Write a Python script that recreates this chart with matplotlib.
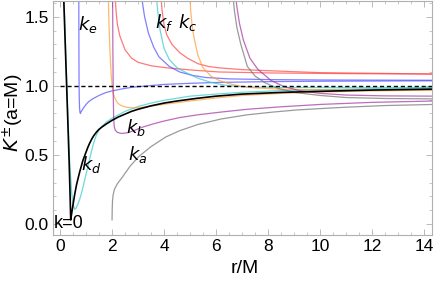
import matplotlib.pyplot as plt
from matplotlib.ticker import MultipleLocator

plt.rcParams['font.family'] = ['Liberation Sans', 'DejaVu Sans']

# values (r/M, K)
black_r = [0.13, 0.2, 0.28, 0.35, 0.39, 0.41, 0.45, 0.5, 0.56, 0.63, 0.7, 0.76, 0.82, 0.88, 0.94, 1.0,
           1.07, 1.14, 1.22, 1.3, 1.4, 1.5, 1.6, 1.75, 2.0, 2.25, 2.5, 2.75, 3.0, 3.5, 4.0, 4.5, 5.3,
           6.0, 7.0, 8.5, 10.0, 12.0, 14.4]
black_k = [1.7, 1.3, 0.85, 0.45, 0.18, 0.03, 0.08, 0.14, 0.21, 0.28, 0.335, 0.38, 0.42, 0.46, 0.49, 0.52,
           0.555, 0.585, 0.615, 0.64, 0.665, 0.685, 0.70, 0.72, 0.75, 0.775, 0.795, 0.815, 0.83, 0.855,
           0.875, 0.89, 0.91, 0.925, 0.94, 0.952, 0.96, 0.969, 0.976]

cyan_lo_r = [0.14, 0.21, 0.29, 0.37, 0.45, 0.5, 0.57, 0.62, 0.68, 0.75, 0.82, 0.9, 1.0, 1.1, 1.2, 1.3,
             1.4, 1.5, 1.6, 1.8, 2.0, 2.5, 3.0, 3.5, 4.0, 5.0, 6.0, 7.0, 8.5, 10.0, 12.0, 14.4]
cyan_lo_k = [1.7, 1.3, 0.85, 0.45, 0.22, 0.14, 0.105, 0.115, 0.14, 0.175, 0.22, 0.28, 0.36, 0.44, 0.52,
             0.59, 0.645, 0.68, 0.705, 0.74, 0.765, 0.815, 0.85, 0.875, 0.895, 0.925, 0.94, 0.953, 0.965,
             0.972, 0.979, 0.984]
cyan_hi_r = [3.68, 3.75, 3.85, 4.0, 4.2, 4.5, 4.9, 5.3, 5.8, 6.3, 6.8, 7.5, 9.0, 14.4]
cyan_hi_k = [1.7, 1.55, 1.4, 1.27, 1.19, 1.13, 1.09, 1.055, 1.025, 1.005, 0.995, 0.99, 0.987, 0.988]

blue_lo_r = [0.72, 0.725, 0.73, 0.74, 0.75, 0.765, 0.78, 0.82, 0.9, 1.0, 1.1, 1.25, 1.5, 1.75, 2.0,
             2.4, 2.8, 3.4, 4.0, 5.0, 6.0, 8.0, 10.0, 14.4]
blue_lo_k = [1.7, 1.3, 1.05, 0.9, 0.84, 0.81, 0.80, 0.815, 0.84, 0.865, 0.885, 0.905, 0.93, 0.95, 0.963,
             0.978, 0.99, 1.0, 1.01, 1.018, 1.024, 1.03, 1.033, 1.036]
blue_hi_r = [3.12, 3.17, 3.25, 3.4, 3.6, 3.8, 4.2, 4.6, 5.1, 5.6, 6.5, 8.0, 10.0, 14.4]
blue_hi_k = [1.7, 1.6, 1.5, 1.38, 1.28, 1.21, 1.14, 1.10, 1.075, 1.06, 1.05, 1.045, 1.042, 1.04]

red_1_r = [2.1, 2.15, 2.2, 2.3, 2.5, 2.75, 3.0, 3.5, 4.1, 5.0, 6.1, 8.0, 11.0, 14.4]
red_1_k = [1.7, 1.55, 1.45, 1.36, 1.26, 1.2, 1.17, 1.145, 1.13, 1.115, 1.10, 1.093, 1.088, 1.085]
red_2_r = [3.86, 3.92, 4.0, 4.1, 4.3, 4.6, 4.9, 5.3, 5.7, 6.1, 7.0, 7.9, 10.0, 14.4]
red_2_k = [1.7, 1.55, 1.44, 1.37, 1.3, 1.24, 1.2, 1.16, 1.14, 1.13, 1.117, 1.11, 1.095, 1.085]

orange_lo_r = [1.85, 1.88, 1.92, 1.96, 2.0, 2.04, 2.09, 2.15, 2.22, 2.3, 2.45, 2.6, 2.8, 3.0, 3.5, 4.0,
               5.0, 6.0, 7.0, 8.5, 10.0, 12.0, 14.4]
orange_lo_k = [1.7, 1.45, 1.25, 1.1, 1.0, 0.95, 0.92, 0.895, 0.875, 0.862, 0.85, 0.843, 0.84, 0.84,
               0.853, 0.866, 0.89, 0.912, 0.93, 0.945, 0.955, 0.963, 0.969]
orange_hi_r = [4.98, 5.02, 5.08, 5.15, 5.3, 5.5, 5.8, 6.1, 6.5, 7.0, 7.5, 8.5, 10.0, 14.4]
orange_hi_k = [1.7, 1.55, 1.43, 1.35, 1.22, 1.13, 1.07, 1.04, 1.015, 0.995, 0.985, 0.975, 0.97, 0.968]

purple_lo_r = [2.02, 2.03, 2.045, 2.06, 2.08, 2.12, 2.2, 2.35, 2.6, 2.9, 3.16, 3.6, 4.0, 4.6, 5.3, 6.2,
               7.2, 8.5, 10.0, 12.0, 14.4]
purple_lo_k = [1.7, 1.3, 0.95, 0.78, 0.71, 0.68, 0.663, 0.655, 0.66, 0.68, 0.7, 0.725, 0.745, 0.77,
               0.79, 0.81, 0.83, 0.848, 0.865, 0.88, 0.89]
purple_hi_r = [6.72, 6.8, 6.9, 7.05, 7.3, 7.6, 8.1, 8.6, 9.2, 10.0, 11.0, 12.5, 14.4]
purple_hi_k = [1.7, 1.57, 1.45, 1.33, 1.2, 1.12, 1.04, 0.995, 0.965, 0.945, 0.933, 0.927, 0.925]

gray_lo_r = [2.0, 2.005, 2.015, 2.04, 2.09, 2.2, 2.4, 2.7, 3.04, 3.5, 4.07, 4.6, 5.3, 6.2, 7.2, 8.2,
             9.1, 10.0, 11.0, 12.5, 14.4]
gray_lo_k = [0.03, 0.1, 0.16, 0.21, 0.25, 0.29, 0.34, 0.42, 0.49, 0.56, 0.63, 0.675, 0.72, 0.76, 0.79,
             0.81, 0.825, 0.835, 0.845, 0.857, 0.865]
gray_hi_r = [6.62, 6.7, 6.8, 6.95, 7.2, 7.5, 7.9, 8.4, 9.1, 10.0, 11.0, 12.5, 14.4]
gray_hi_k = [1.7, 1.55, 1.42, 1.3, 1.14, 1.07, 1.02, 0.98, 0.95, 0.93, 0.915, 0.908, 0.905]

labels = ["$k_e$", "$k_f$", "$k_c$", "$k_b$", "$k_a$", "$k_d$", "k=0"]
label_r = [1.07, 4.0, 4.9, 2.9, 2.97, 1.2, 0.33]
label_k = [1.44, 1.46, 1.46, 0.70, 0.50, 0.43, 0.0]

fig = plt.figure(figsize=(4.36, 2.83), dpi=100)
ax = fig.add_axes([0.1216, 0.1696, 0.8692, 0.828])

thin = dict(lw=0.9, alpha=0.7)
ax.plot(red_1_r, red_1_k, color='#ff4040', **thin)
ax.plot(red_2_r, red_2_k, color='#ff4040', **thin)
ax.plot(blue_lo_r, blue_lo_k, color='#4a4aff', **thin)
ax.plot(blue_hi_r, blue_hi_k, color='#4a4aff', **thin)
ax.plot(cyan_lo_r, cyan_lo_k, color='#30c8c8', **thin)
ax.plot(cyan_hi_r, cyan_hi_k, color='#30c8c8', **thin)
ax.plot(orange_lo_r, orange_lo_k, color='#ff9a30', **thin)
ax.plot(orange_hi_r, orange_hi_k, color='#ff9a30', **thin)
ax.plot(purple_lo_r, purple_lo_k, color='#a030a0', **thin)
ax.plot(purple_hi_r, purple_hi_k, color='#a030a0', **thin)
ax.plot(gray_lo_r, gray_lo_k, color='#707070', **thin)
ax.plot(gray_hi_r, gray_hi_k, color='#707070', **thin)
ax.plot(black_r, black_k, color='black', lw=1.2)
ax.plot([0, 14.4], [1, 1], color='black', lw=1.0, ls=(0, (3, 2)))

for t, x, y in zip(labels, label_r, label_k):
    ax.text(x, y, t, fontsize=13, ha='center', va='center')

ax.set_xlim(-0.27, 14.3)
ax.set_ylim(-0.08, 1.616)
ax.xaxis.set_minor_locator(MultipleLocator(0.5))
ax.yaxis.set_minor_locator(MultipleLocator(0.1))
ax.set_xticks([0, 2, 4, 6, 8, 10, 12, 14])
ax.set_yticks([0.0, 0.5, 1.0, 1.5])
ax.tick_params(which='both', direction='in', top=True, right=True, color='#b0b0b0',
               labelsize=12.5, pad=3)
ax.tick_params(which='major', length=4, width=0.6)
ax.tick_params(which='minor', length=2, width=0.5)
for s in ax.spines.values():
    s.set_color('#b0b0b0')
    s.set_linewidth(0.8)

ax.set_xlabel("r/M", fontsize=14)
ax.set_ylabel("$K^{\\pm}$(a=M)", fontsize=14)
ax.xaxis.set_label_coords(0.507, -0.105)
ax.yaxis.set_label_coords(-0.07, 0.52)

fig.savefig("out.png", dpi=100)
